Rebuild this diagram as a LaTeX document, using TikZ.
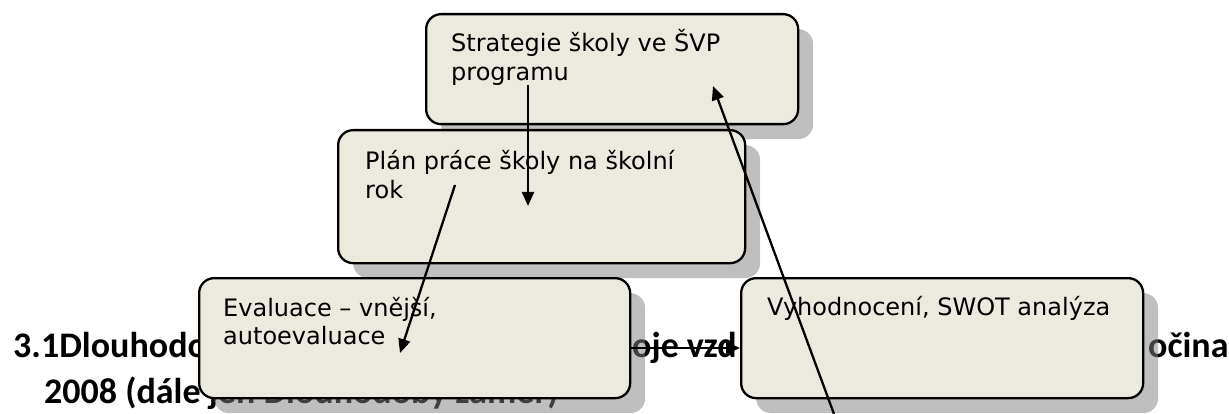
\documentclass[tikz,border=0pt]{standalone}
\usepackage{fontspec}
\setmainfont{DejaVu Sans}
\newfontfamily\headfont{Carlito}
\usetikzlibrary{arrows.meta,shadows}
\definecolor{boxfill}{RGB}{236,233,223}
\begin{document}
\begin{tikzpicture}[x=1pt,y=-1pt,
  box/.style={draw=black, line width=2.3pt, fill=boxfill, rounded corners=15pt,
    inner sep=0pt, anchor=north west,
    drop shadow={shadow xshift=15pt, shadow yshift=-15pt, fill=black!50, opacity=0.5}},
  txt/.style={inner sep=0pt, anchor=base west, align=left,
    font=\fontsize{24}{28.5}\selectfont},
  head/.style={inner sep=0pt, anchor=base west,
    font=\headfont\bfseries\fontsize{36}{43}\selectfont},
  arr/.style={line width=2.3pt, -{Triangle[length=14pt,width=12pt]}}]
\useasboundingbox[fill=white] (0,0) rectangle (1229,414);
% heading text behind the boxes
\node[head] (h1) at (13,357) {3.1Dlouhodo};
\node[head] (h2) at (632,357) {oje vzd};
\node[head] (h3) at (1148,357) {očina};
\node[head] (h4) at (44,403) {2008 (dále jen Dlouhodobý záměr)};
% boxes
\node[box, minimum width=372pt, minimum height=110pt] (strat) at (425,13) {};
\node[box, minimum width=407pt, minimum height=133pt] (plan) at (337,129) {};
\node[box, minimum width=431pt, minimum height=120pt] (eval) at (198,277) {};
\node[box, minimum width=402pt, minimum height=120pt] (vyh) at (740,277) {};
% box texts (base anchor = baseline of the last line)
\node[txt] (tstrat) at ([shift={(26,67.5)}]strat.north west) {Strategie školy ve ŠVP\\programu};
\node[txt] (tplan) at ([shift={(28,69.5)}]plan.north west) {Plán práce školy na školní\\rok};
\node[txt] (teval) at ([shift={(25,67.5)}]eval.north west) {Evaluace – vnější,\\autoevaluace};
\node[txt] (tvyh) at ([shift={(27,38)}]vyh.north west) {Vyhodnocení, SWOT analýza};
% arrows
\draw[arr] ([shift={(103,72)}]strat.north west) -- ([shift={(191,77)}]plan.north west);
\draw[arr] ([shift={(118,56)}]plan.north west) -- ([shift={(202,76)}]eval.north west);
\draw[arr] ([shift={(94,137)}]vyh.north west) -- ([shift={(288,73)}]strat.north west);
\draw[arr] ([shift={(0,71)}]eval.north east) -- ([shift={(0,71)}]vyh.north west);
\end{tikzpicture}
\end{document}
